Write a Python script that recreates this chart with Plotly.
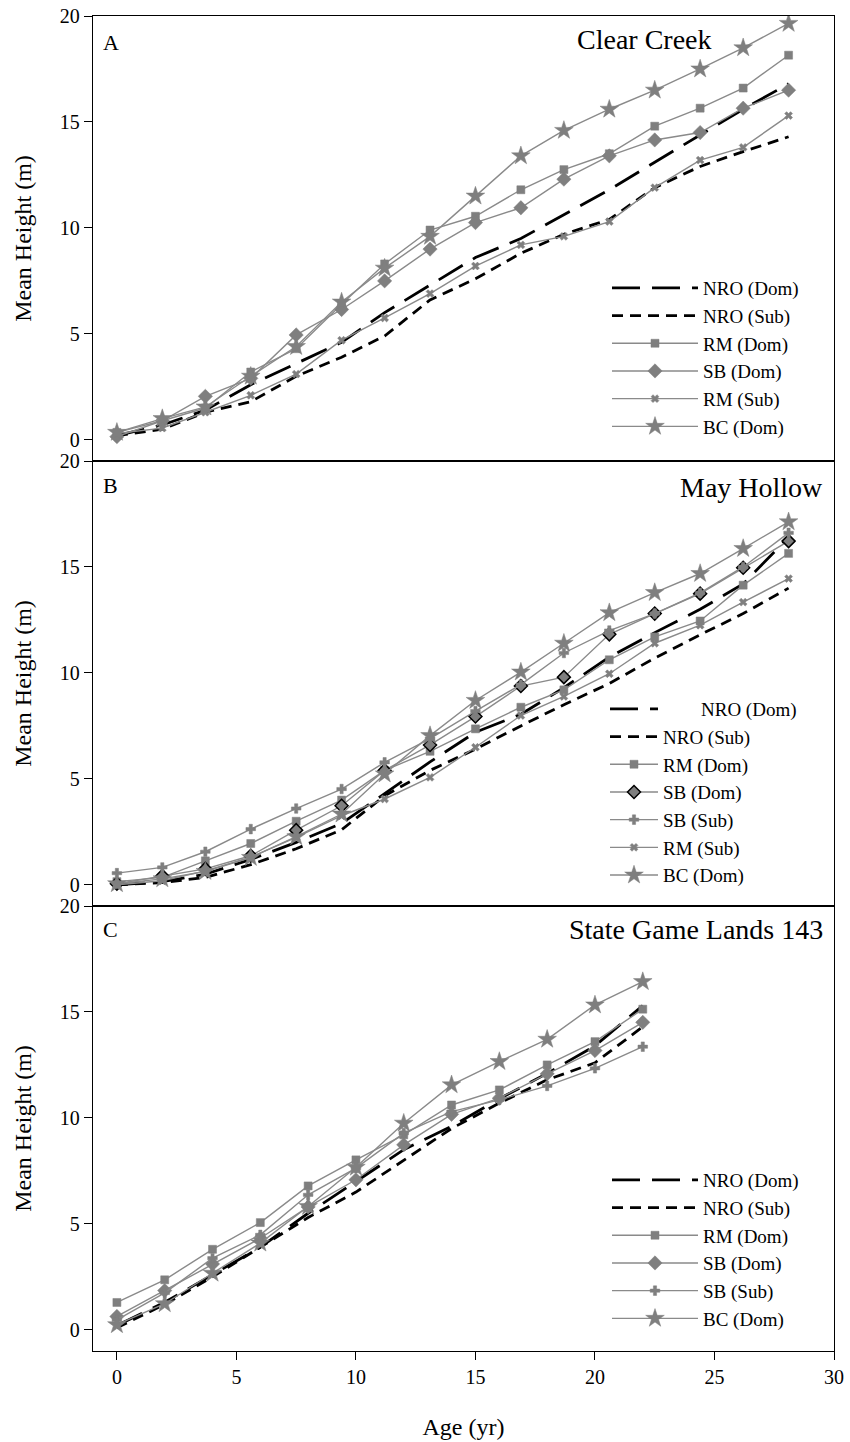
import plotly.graph_objects as go
from plotly.subplots import make_subplots

# ---------------- data ----------------
ages_AB = [0, 1.9, 3.7, 5.6, 7.5, 9.4, 11.2, 13.1, 15.0, 16.9, 18.7, 20.6, 22.5, 24.4, 26.2, 28.1]
ages_C = [0, 2, 4, 6, 8, 10, 12, 14, 16, 18, 20, 22]

# Panel A - Clear Creek
nro_dom_A = [0.2, 0.7, 1.4, 2.6, 3.6, 4.6, 6.0, 7.3, 8.6, 9.5, 10.6, 11.8, 13.1, 14.4, 15.6, 16.8]
nro_sub_A = [0.2, 0.5, 1.3, 1.8, 3.0, 3.9, 4.9, 6.6, 7.6, 8.8, 9.7, 10.4, 11.9, 12.9, 13.6, 14.3]
rm_dom_A = [0.35, 0.9, 1.5, 3.2, 4.3, 6.4, 8.3, 9.9, 10.55, 11.8, 12.75, 13.5, 14.8, 15.65, 16.6, 18.15]
sb_dom_A = [0.15, 0.9, 2.05, 2.9, 4.95, 6.15, 7.5, 9.0, 10.25, 10.95, 12.3, 13.4, 14.15, 14.5, 15.65, 16.5]
rm_sub_A = [0.3, 0.55, 1.3, 2.1, 3.1, 4.7, 5.75, 6.9, 8.2, 9.2, 9.6, 10.3, 11.9, 13.2, 13.8, 15.3]
bc_dom_A = [0.35, 1.0, 1.55, 3.0, 4.4, 6.5, 8.1, 9.6, 11.5, 13.4, 14.6, 15.6, 16.5, 17.5, 18.5, 19.65]

# Panel B - May Hollow
nro_dom_B = [0.0, 0.15, 0.5, 1.2, 2.0, 2.9, 4.3, 5.8, 7.2, 8.05, 9.3, 10.75, 11.9, 13.0, 14.2, 16.4]
nro_sub_B = [0.0, 0.1, 0.35, 0.95, 1.7, 2.6, 4.2, 5.4, 6.4, 7.5, 8.5, 9.5, 10.7, 11.8, 12.8, 14.0]
rm_dom_B = [0.15, 0.35, 1.13, 1.95, 3.0, 4.0, 5.4, 6.3, 7.36, 8.38, 9.2, 10.62, 11.7, 12.45, 14.14, 15.64]
sb_dom_B = [0.05, 0.42, 0.75, 1.37, 2.58, 3.73, 5.4, 6.6, 7.94, 9.38, 9.8, 11.82, 12.8, 13.74, 14.96, 16.22]
sb_sub_B = [0.55, 0.82, 1.56, 2.63, 3.6, 4.52, 5.78, 6.9, 8.2, 9.45, 10.94, 12.0, 12.8, 13.78, 15.0, 16.61]
rm_sub_B = [0.0, 0.19, 0.66, 1.3, 2.24, 3.26, 4.05, 5.07, 6.49, 7.99, 8.89, 9.96, 11.4, 12.25, 13.34, 14.45]
bc_dom_B = [0.05, 0.28, 0.63, 1.29, 2.27, 3.34, 5.23, 7.04, 8.7, 10.04, 11.4, 12.84, 13.79, 14.69, 15.87, 17.13]

# Panel C - State Game Lands 143
nro_dom_C = [0.2, 1.3, 2.6, 3.9, 5.5, 7.0, 8.5, 9.6, 10.9, 12.1, 13.4, 15.3]
nro_sub_C = [0.1, 1.2, 2.5, 3.9, 5.3, 6.5, 8.0, 9.5, 10.7, 11.8, 12.6, 14.3]
rm_dom_C = [1.29, 2.36, 3.8, 5.06, 6.79, 8.02, 9.2, 10.61, 11.32, 12.5, 13.6, 15.13]
sb_dom_C = [0.63, 1.85, 3.11, 4.32, 5.8, 7.08, 8.73, 10.17, 10.93, 12.08, 13.18, 14.51]
sb_sub_C = [0.47, 1.74, 3.38, 4.48, 6.37, 7.63, 9.28, 10.3, 10.85, 11.51, 12.34, 13.36]
bc_dom_C = [0.24, 1.23, 2.67, 4.09, 5.82, 7.67, 9.75, 11.56, 12.66, 13.71, 15.33, 16.43]

panel_titles = ["Clear Creek", "May Hollow", "State Game Lands 143"]
panel_letters = ["A", "B", "C"]
y_ticks = [0, 5, 10, 15, 20]
x_ticks = [0, 5, 10, 15, 20, 25, 30]

# ---------------- styles ----------------
FONT = "Liberation Serif"
GRAY_LINE = "#8a8a8a"
GRAY_MK = "#7f7f7f"

def dashed(name, x, y, dash, row, legend):
    return go.Scatter(x=x, y=y, mode="lines", name=name, legend=legend,
                      line=dict(color="black", width=2.8, dash=dash),
                      showlegend=True), row

def marked(name, x, y, symbol, size, row, legend, outline=None):
    mk = dict(symbol=symbol, size=size, color=GRAY_MK)
    if outline:
        mk["line"] = dict(color=outline, width=1.5)
    else:
        mk["line"] = dict(color=GRAY_MK, width=0.5)
    return go.Scatter(x=x, y=y, mode="lines+markers", name=name, legend=legend,
                      line=dict(color=GRAY_LINE, width=1.4), marker=mk), row

LONG = "28px,12px"
SHORT = "11px,7px"

traces = [
    dashed("NRO (Dom)", ages_AB, nro_dom_A, LONG, 1, "legend"),
    dashed("NRO (Sub)", ages_AB, nro_sub_A, SHORT, 1, "legend"),
    marked("RM (Dom)", ages_AB, rm_dom_A, "square", 8, 1, "legend"),
    marked("SB (Dom)", ages_AB, sb_dom_A, "diamond", 11, 1, "legend"),
    marked("RM (Sub)", ages_AB, rm_sub_A, "x", 7, 1, "legend"),
    marked("BC (Dom)", ages_AB, bc_dom_A, "star", 14, 1, "legend"),

    dashed("\u00a0" * 8 + "NRO (Dom)", ages_AB, nro_dom_B, LONG, 2, "legend2"),
    dashed("NRO (Sub)", ages_AB, nro_sub_B, SHORT, 2, "legend2"),
    marked("RM (Dom)", ages_AB, rm_dom_B, "square", 8, 2, "legend2"),
    marked("SB (Dom)", ages_AB, sb_dom_B, "diamond", 10, 2, "legend2", outline="black"),
    marked("SB (Sub)", ages_AB, sb_sub_B, "cross", 8, 2, "legend2"),
    marked("RM (Sub)", ages_AB, rm_sub_B, "x", 7, 2, "legend2"),
    marked("BC (Dom)", ages_AB, bc_dom_B, "star", 14, 2, "legend2"),

    dashed("NRO (Dom)", ages_C, nro_dom_C, LONG, 3, "legend3"),
    dashed("NRO (Sub)", ages_C, nro_sub_C, SHORT, 3, "legend3"),
    marked("RM (Dom)", ages_C, rm_dom_C, "square", 8, 3, "legend3"),
    marked("SB (Dom)", ages_C, sb_dom_C, "diamond", 11, 3, "legend3"),
    marked("SB (Sub)", ages_C, sb_sub_C, "cross", 8, 3, "legend3"),
    marked("BC (Dom)", ages_C, bc_dom_C, "star", 14, 3, "legend3"),
]

fig = make_subplots(rows=3, cols=1, shared_xaxes=True, vertical_spacing=0)
for tr, row in traces:
    fig.add_trace(tr, row=row, col=1)

W, H = 850, 1442
L, R, T, B = 93, 16, 16, 91
PW, PH = W - L - R, H - T - B

def px(xp):
    return (xp - L) / PW

def py(yp):
    return (H - B - yp) / PH

for r in (1, 2, 3):
    fig.update_yaxes(row=r, col=1, range=[-1, 20], tickvals=y_ticks, ticks="outside",
                     ticklen=8, tickwidth=1.3, tickcolor="black", showline=True,
                     linecolor="black", linewidth=1.4, mirror=True, showgrid=False,
                     zeroline=False, automargin=False,
                     tickfont=dict(family=FONT, size=20, color="black"),
                     title=dict(text="Mean Height (m)", standoff=21,
                                font=dict(family=FONT, size=24, color="black")))
    fig.update_xaxes(row=r, col=1, range=[-1, 30], showline=True, linecolor="black",
                     linewidth=1.4, mirror=True, showgrid=False, zeroline=False,
                     automargin=False)

fig.update_xaxes(row=3, col=1, tickvals=x_ticks, ticks="outside", ticklen=8, tickwidth=1.3,
                 tickcolor="black", showticklabels=True,
                 tickfont=dict(family=FONT, size=20, color="black"),
                 title=dict(text="Age (yr)", standoff=30,
                            font=dict(family=FONT, size=24, color="black")))
fig.update_xaxes(row=1, col=1, ticks="", showticklabels=False)
fig.update_xaxes(row=2, col=1, ticks="", showticklabels=False)

leg_common = dict(font=dict(family=FONT, size=19, color="black"), bgcolor="rgba(0,0,0,0)",
                  borderwidth=0, xanchor="left", yanchor="top", traceorder="normal",
                  tracegroupgap=0)
fig.update_layout(
    legend=dict(x=px(607), y=py(269), itemwidth=86, **leg_common),
    legend2=dict(x=px(605), y=py(690), itemwidth=48, **leg_common),
    legend3=dict(x=px(607), y=py(1161), itemwidth=86, **leg_common),
)

annotations = []
letter_y = [42, 486, 930]
title_y = [40, 487, 930]
title_right = [714, 825, 825]
for i in range(3):
    annotations.append(dict(text=panel_letters[i], x=px(101), y=py(letter_y[i]),
                            xref="paper", yref="paper", xanchor="left", yanchor="middle",
                            showarrow=False, font=dict(family=FONT, size=22, color="black")))
    annotations.append(dict(text=panel_titles[i], x=px(title_right[i]), y=py(title_y[i]),
                            xref="paper", yref="paper", xanchor="right", yanchor="middle",
                            showarrow=False, font=dict(family=FONT, size=28, color="black")))

fig.update_layout(width=W, height=H, margin=dict(l=L, r=R, t=T, b=B),
                  plot_bgcolor="white", paper_bgcolor="white",
                  annotations=annotations, font=dict(family=FONT, color="black"))

fig.write_html("out.html")
